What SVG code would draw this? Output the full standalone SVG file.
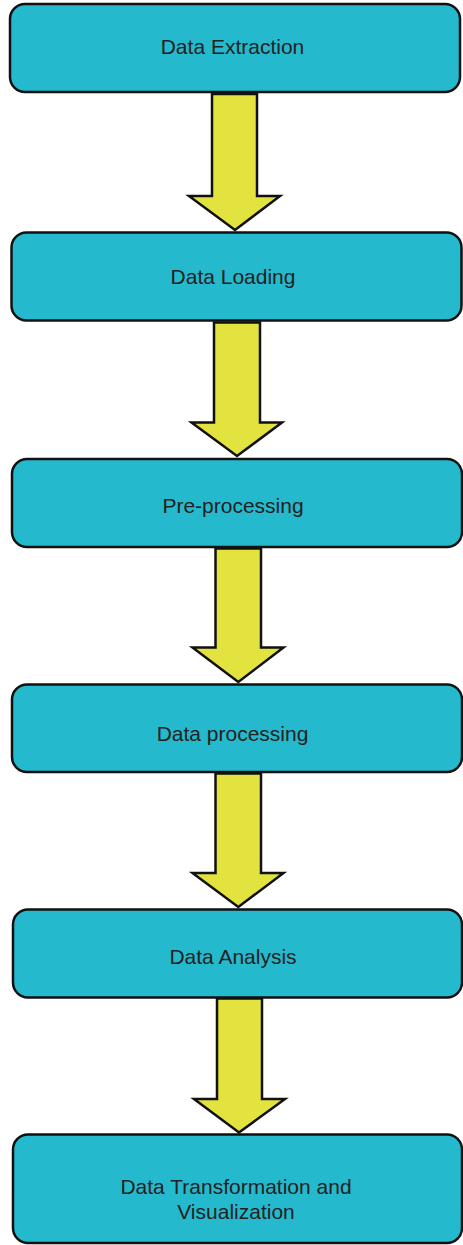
<svg xmlns="http://www.w3.org/2000/svg" width="463" height="1245" viewBox="0 0 463 1245">
<style>
.box{fill:#25B9CD;stroke:#111;stroke-width:2.5}
.lbl{font-family:"Liberation Sans",Arial,sans-serif;font-size:21px;fill:#222;text-anchor:middle}
.arr{fill:#E3E33F;stroke:#111;stroke-width:2.5;stroke-linejoin:miter}
</style>
<rect width="463" height="1245" fill="#fff"/>
<g id="n1"><rect class="box" x="10" y="4" width="450" height="88" rx="15"/><text class="lbl" x="232.5" y="54">Data Extraction</text></g>
<g id="n2"><rect class="box" x="11.5" y="232.5" width="450" height="88" rx="15"/><text class="lbl" x="233" y="284">Data Loading</text></g>
<g id="n3"><rect class="box" x="12" y="459" width="450" height="88" rx="15"/><text class="lbl" x="233" y="512.5">Pre-processing</text></g>
<g id="n4"><rect class="box" x="12" y="684.5" width="450" height="87.5" rx="15"/><text class="lbl" x="232.5" y="741">Data processing</text></g>
<g id="n5"><rect class="box" x="13" y="909.5" width="449" height="88" rx="15"/><text class="lbl" x="233" y="964">Data Analysis</text></g>
<g id="n6"><rect class="box" x="13" y="1134.5" width="449" height="108.5" rx="15"/><text class="lbl" x="236" y="1194">Data Transformation and</text><text class="lbl" x="236" y="1219">Visualization</text></g>
<g id="connectors">
<polygon class="arr" points="212,94 257,94 257,196 280,196 235,230 189,196 212,196"/>
<polygon class="arr" points="214,322.5 260,322.5 260,422.5 282,422.5 237,456 191.5,422.5 214,422.5"/>
<polygon class="arr" points="215.5,548.5 261,548.5 261,647.5 283.5,647.5 238.3,682 192.5,647.5 215.5,647.5"/>
<polygon class="arr" points="215.5,773.5 261,773.5 261,873 283.5,873 238.3,907 192.5,873 215.5,873"/>
<polygon class="arr" points="217,998.5 262,998.5 262,1099 285,1099 239,1132.5 194,1099 217,1099"/>
</g>
</svg>
